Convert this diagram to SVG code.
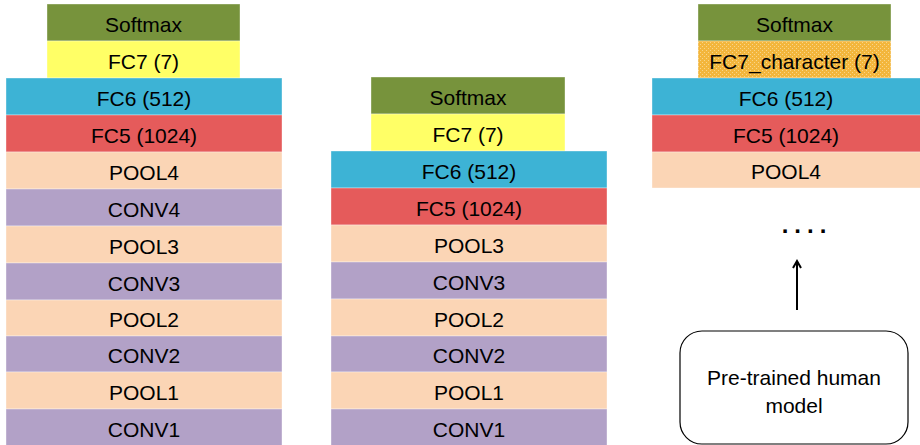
<svg xmlns="http://www.w3.org/2000/svg" width="920" height="445" viewBox="0 0 920 445">
<style>
text{font-family:"Liberation Sans",Arial,sans-serif;font-size:21px;fill:#000;text-anchor:middle}
.l{stroke:#fff;stroke-width:0.6;stroke-opacity:0.6}
.sm{fill:#77933C}.fc7{fill:#FFFF66}.fc6{fill:#3DB3D5}.fc5{fill:#E55B5B}.pool{fill:#FBD5B5}.conv{fill:#B2A1C7}
.chr{fill:url(#dots)}
</style>
<defs>
<pattern id="dots" width="4" height="4" patternUnits="userSpaceOnUse">
<rect width="4" height="4" fill="#F3B63C"/>
<rect x="0" y="0" width="1" height="1" fill="#F8D58A"/>
<rect x="2" y="2" width="1" height="1" fill="#F8D58A"/>
</pattern>
<marker id="ah" viewBox="0 0 10 10" refX="8" refY="5" markerWidth="5" markerHeight="5" orient="auto">
<path d="M1,1 L8,5 L1,9" fill="none" stroke="#000" stroke-width="2"/>
</marker>
</defs>
<rect width="920" height="445" fill="#fff"/>

<!-- Left column -->
<g id="L-softmax"><rect class="sm l" x="47" y="4" width="193" height="37"/><text x="143.5" y="32">Softmax</text></g>
<g id="L-fc7"><rect class="fc7 l" x="47" y="41" width="193" height="37"/><text x="143.5" y="69">FC7 (7)</text></g>
<g id="L-fc6"><rect class="fc6 l" x="6" y="78" width="276" height="37"/><text x="144" y="106">FC6 (512)</text></g>
<g id="L-fc5"><rect class="fc5 l" x="6" y="115" width="276" height="37"/><text x="144" y="143">FC5 (1024)</text></g>
<g id="L-pool4"><rect class="pool l" x="6" y="152" width="276" height="37"/><text x="144" y="180">POOL4</text></g>
<g id="L-conv4"><rect class="conv l" x="6" y="189" width="276" height="37"/><text x="144" y="217">CONV4</text></g>
<g id="L-pool3"><rect class="pool l" x="6" y="226" width="276" height="37"/><text x="144" y="254">POOL3</text></g>
<g id="L-conv3"><rect class="conv l" x="6" y="263" width="276" height="37"/><text x="144" y="291">CONV3</text></g>
<g id="L-pool2"><rect class="pool l" x="6" y="300" width="276" height="36"/><text x="144" y="327">POOL2</text></g>
<g id="L-conv2"><rect class="conv l" x="6" y="336" width="276" height="36"/><text x="144" y="363">CONV2</text></g>
<g id="L-pool1"><rect class="pool l" x="6" y="372" width="276" height="37"/><text x="144" y="400">POOL1</text></g>
<g id="L-conv1"><rect class="conv l" x="6" y="409" width="276" height="37"/><text x="144" y="437">CONV1</text></g>

<!-- Middle column -->
<g id="M-softmax"><rect class="sm l" x="371" y="77" width="194" height="37"/><text x="468" y="105">Softmax</text></g>
<g id="M-fc7"><rect class="fc7 l" x="371" y="114" width="194" height="37"/><text x="468" y="142">FC7 (7)</text></g>
<g id="M-fc6"><rect class="fc6 l" x="331" y="151" width="276" height="37"/><text x="469" y="179">FC6 (512)</text></g>
<g id="M-fc5"><rect class="fc5 l" x="331" y="188" width="276" height="37"/><text x="469" y="216">FC5 (1024)</text></g>
<g id="M-pool3"><rect class="pool l" x="331" y="225" width="276" height="37"/><text x="469" y="253">POOL3</text></g>
<g id="M-conv3"><rect class="conv l" x="331" y="262" width="276" height="37"/><text x="469" y="290">CONV3</text></g>
<g id="M-pool2"><rect class="pool l" x="331" y="299" width="276" height="37"/><text x="469" y="327">POOL2</text></g>
<g id="M-conv2"><rect class="conv l" x="331" y="336" width="276" height="36"/><text x="469" y="363">CONV2</text></g>
<g id="M-pool1"><rect class="pool l" x="331" y="372" width="276" height="37"/><text x="469" y="400">POOL1</text></g>
<g id="M-conv1"><rect class="conv l" x="331" y="409" width="276" height="37"/><text x="469" y="437">CONV1</text></g>

<!-- Right column -->
<g id="R-softmax"><rect class="sm l" x="698" y="4" width="193" height="37"/><text x="794.5" y="32">Softmax</text></g>
<g id="R-fc7"><rect class="chr l" x="698" y="41" width="193" height="37"/><text x="794.5" y="69">FC7_character (7)</text></g>
<g id="R-fc6"><rect class="fc6 l" x="652" y="78" width="276" height="37"/><text x="786" y="106">FC6 (512)</text></g>
<g id="R-fc5"><rect class="fc5 l" x="652" y="115" width="276" height="37"/><text x="786" y="143">FC5 (1024)</text></g>
<g id="R-pool4"><rect class="pool l" x="652" y="152" width="276" height="36"/><text x="786" y="179">POOL4</text></g>
<g id="R-dots"><text x="807" y="233" style="letter-spacing:6px;font-size:24px;font-weight:bold">....</text></g>

<g id="R-pretrained">
<rect x="680" y="331" width="228" height="113" rx="22" ry="22" fill="#fff" stroke="#000" stroke-width="1.2"/>
<text x="794" y="385">Pre-trained human</text>
<text x="794" y="413">model</text>
</g>

<g id="connectors">
<line x1="797" y1="310" x2="797" y2="261" stroke="#000" stroke-width="2" marker-end="url(#ah)"/>
</g>
</svg>
